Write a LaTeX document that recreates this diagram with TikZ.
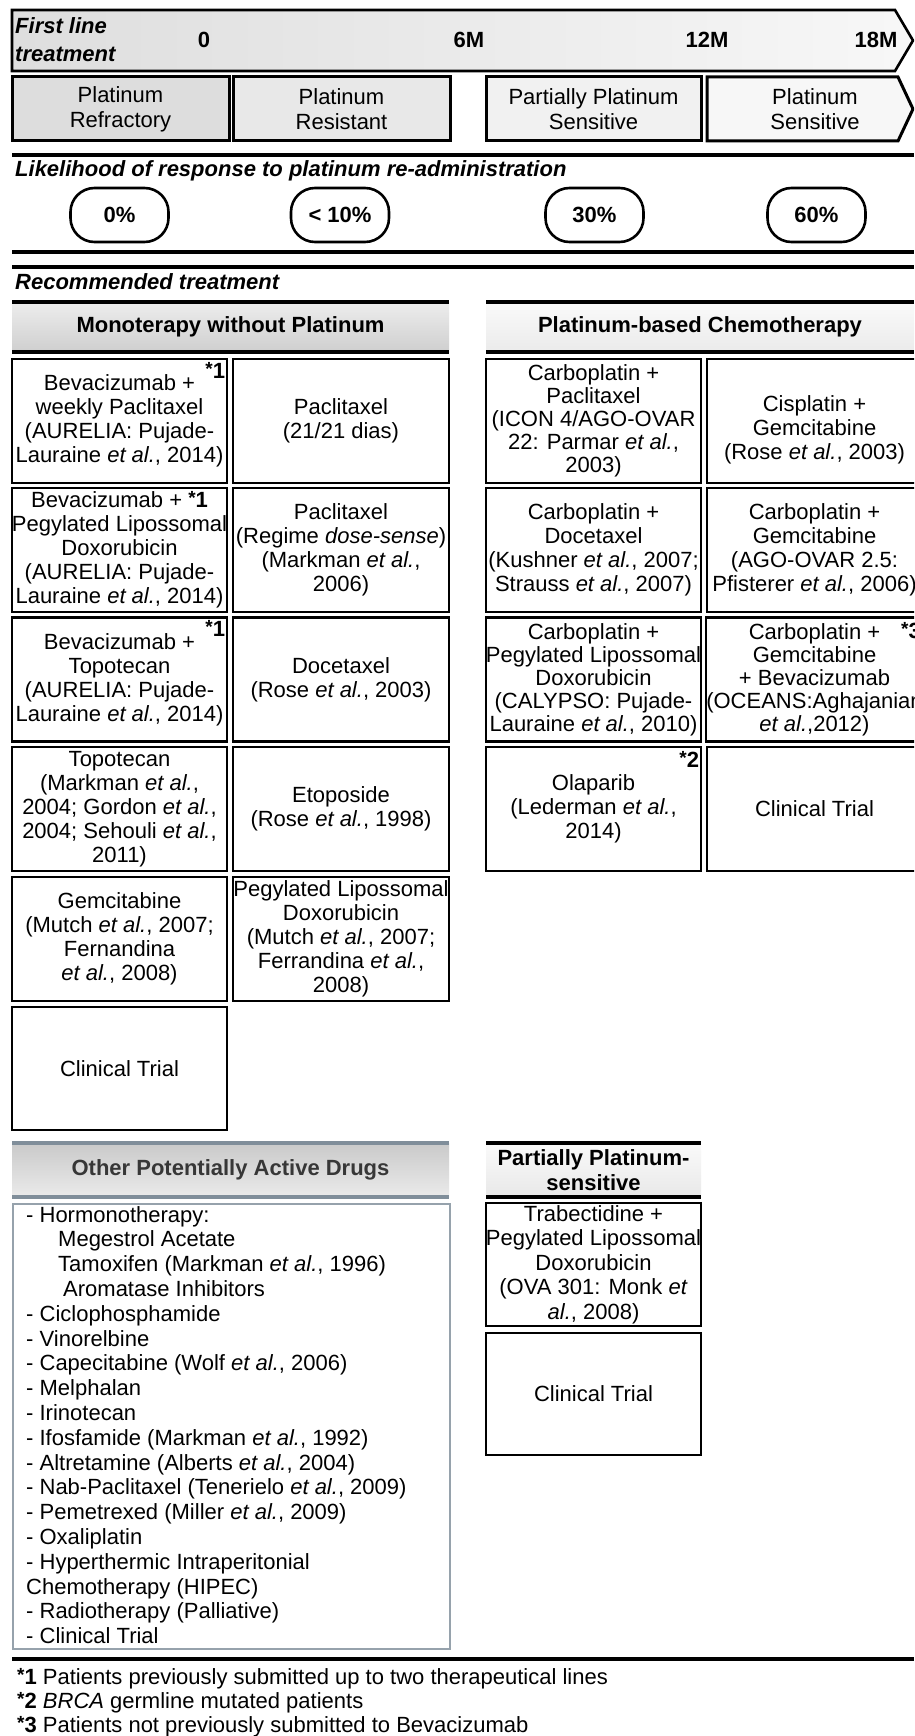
\documentclass[tikz,border=0pt]{standalone}
\usepackage{fontspec}
\setmainfont{Liberation Sans}
\definecolor{steel}{RGB}{128,142,154}
\definecolor{steellight}{RGB}{150,162,172}
\definecolor{darktxt}{RGB}{55,55,55}
\newcommand{\starnum}[1]{{\fontsize{19}{19}\selectfont\bfseries\raisebox{3pt}{*}}{\bfseries #1}}
\begin{document}
\begin{tikzpicture}[x=1pt,y=-1pt,
  every node/.style={inner sep=0pt},
  bold/.style={font=\bfseries\fontsize{22}{23.5}\selectfont},
  bolditalic/.style={font=\bfseries\itshape\fontsize{22}{22}\selectfont},
  cell/.style={draw, line width=2.4pt, minimum width=215pt, minimum height=124pt, align=center, font=\fontsize{22}{24}\selectfont},
  starmark/.style={anchor=north east, font=\fontsize{22}{22}\selectfont},
  rule/.style={line width=3.4pt},
  status/.style={draw, line width=3pt, minimum height=64pt, align=center, font=\fontsize{22}{25}\selectfont},
  pill/.style={draw, line width=2.6pt, rounded corners=24pt, minimum width=98pt, minimum height=54pt, fill=white, font=\bfseries\fontsize{22}{22}\selectfont},
  listline/.style={anchor=base west, font=\fontsize{22}{22}\selectfont},
  foot/.style={anchor=base west, font=\fontsize{22}{22}\selectfont},
]
\useasboundingbox (0,0) rectangle (914,1736);
\clip (0,0) rectangle (914,1736);
\fill[white] (0,0) rectangle (914,1736);

% timeline
\path[draw, line width=2.6pt, left color=gray!26, right color=gray!6]
  (12,10) -- (895,10) -- (913,40.5) -- (895,71) -- (12,71) -- cycle;
\node[anchor=base west, bolditalic] (fl1) at (15,34) {First line};
\node[anchor=base west, bolditalic] (fl2) at (15,62) {treatment};
\node[anchor=base, bold] (t0) at (204,48) {0};
\node[anchor=base, bold] (t6) at (469,48) {6M};
\node[anchor=base, bold] (t12) at (707,48) {12M};
\node[anchor=base, bold] (t18) at (876,48) {18M};

% status boxes
\node[status, fill=gray!27, minimum width=217pt] (s1) at (120.5,109) {Platinum\\Refractory};
\node[status, fill=gray!18, minimum width=217pt] (s2) at (341.5,109) {Platinum\\Resistant};
\node[status, fill=gray!11, minimum width=215pt] (s3) at (593.5,109) {Partially Platinum\\Sensitive};
\path[draw, line width=3pt, fill=gray!6] (707,77) -- (898,77) -- (913,109) -- (898,141) -- (707,141) -- cycle;
\node[align=center, font=\fontsize{22}{25}\selectfont] (s4) at (815,109) {Platinum\\Sensitive};

% likelihood
\draw[rule] (12,155) -- (914,155);
\node[anchor=base west, bolditalic] (lik) at (15,177) {Likelihood of response to platinum re-administration};
\node[pill] (p1) at (119.5,215) {0\%};
\node[pill] (p2) at (340,215) {< 10\%};
\node[pill] (p3) at (594.5,215) {30\%};
\node[pill] (p4) at (816.5,215) {60\%};
\draw[rule] (12,252) -- (914,252);
\draw[rule] (12,267) -- (914,267);
\node[anchor=base west, bolditalic] (rec) at (15,289) {Recommended treatment};

% headers
\path[top color=gray!14, bottom color=gray!38] (12,302) rectangle (449,352);
\draw[rule] (12,302) -- (449,302);
\draw[rule] (12,352) -- (449,352);
\node[bold] (hm) at (230.5,327) {Monoterapy without Platinum};
\path[top color=gray!4, bottom color=gray!16] (486,302) rectangle (914,352);
\draw[rule] (486,302) -- (914,302);
\draw[rule] (486,352) -- (914,352);
\node[bold] (hp) at (700,327) {Platinum-based Chemotherapy};

% column A
\node[cell] (A1) at (119.5,421) {Bevacizumab +\\weekly Paclitaxel\\(AURELIA: Pujade-\\Lauraine \textit{et al.}, 2014)};
\node[starmark] (mA1) at ([xshift=-3pt,yshift=-4pt]A1.north east) {\starnum{1}};
\node[cell] (A2) at (119.5,550) {Bevacizumab + \starnum{1}\\Pegylated Lipossomal\\Doxorubicin\\(AURELIA: Pujade-\\Lauraine \textit{et al.}, 2014)};
\node[cell] (A3) at (119.5,679.5) {Bevacizumab +\\Topotecan\\(AURELIA: Pujade-\\Lauraine \textit{et al.}, 2014)};
\node[starmark] (mA3) at ([xshift=-3pt,yshift=-4pt]A3.north east) {\starnum{1}};
\node[cell] (A4) at (119.5,809) {Topotecan\\(Markman \textit{et al.},\\2004; Gordon \textit{et al.},\\2004; Sehouli \textit{et al.},\\2011)};
\node[cell] (A5) at (119.5,939) {Gemcitabine\\(Mutch \textit{et al.}, 2007;\\Fernandina\\\textit{et al.}, 2008)};
\node[cell, minimum height=123pt] (A6) at (119.5,1068.5) {Clinical Trial};

% column B
\node[cell, minimum width=216pt] (B1) at (341,421) {Paclitaxel\\(21/21 dias)};
\node[cell, minimum width=216pt] (B2) at (341,550) {Paclitaxel\\(Regime \textit{dose-sense})\\(Markman \textit{et al.},\\2006)};
\node[cell, minimum width=216pt] (B3) at (341,679.5) {Docetaxel\\(Rose \textit{et al.}, 2003)};
\node[cell, minimum width=216pt] (B4) at (341,809) {Etoposide\\(Rose \textit{et al.}, 1998)};
\node[cell, minimum width=216pt] (B5) at (341,939) {Pegylated Lipossomal\\Doxorubicin\\(Mutch \textit{et al.}, 2007;\\Ferrandina \textit{et al.},\\2008)};

% column C
\node[cell, font=\fontsize{22}{23}\selectfont] (C1) at (593.5,421) {Carboplatin +\\Paclitaxel\\(ICON 4/AGO-OVAR\\22: Parmar \textit{et al.},\\2003)};
\node[cell] (C2) at (593.5,550) {Carboplatin +\\Docetaxel\\(Kushner \textit{et al.}, 2007;\\Strauss \textit{et al.}, 2007)};
\node[cell, font=\fontsize{22}{23}\selectfont] (C3) at (593.5,679.5) {Carboplatin +\\Pegylated Lipossomal\\Doxorubicin\\(CALYPSO: Pujade-\\Lauraine \textit{et al.}, 2010)};
\node[cell] (C4) at (593.5,809) {Olaparib\\(Lederman \textit{et al.},\\2014)};
\node[starmark] (mC4) at ([xshift=-3pt,yshift=-5pt]C4.north east) {\starnum{2}};

% column D (cut at the right edge, as in the original)
\node[cell] (D1) at (814.5,421) {\vphantom{C}\\[-6pt]Cisplatin +\\Gemcitabine\\(Rose \textit{et al.}, 2003)};
\node[cell] (D2) at (814.5,550) {Carboplatin +\\Gemcitabine\\(AGO-OVAR 2.5:\\Pfisterer \textit{et al.}, 2006)};
\node[cell, font=\fontsize{22}{23}\selectfont] (D3) at (814.5,679.5) {Carboplatin +\\Gemcitabine\\+ Bevacizumab\\(OCEANS:Aghajanian\\\textit{et al.},2012)};
\node[starmark] (mD3) at ([xshift=-3pt,yshift=-6pt]D3.north east) {\starnum{3}};
\node[cell] (D4) at (814.5,809) {Clinical Trial};

% other potentially active drugs
\path[top color=gray!42, bottom color=gray!16] (12,1143) rectangle (449,1197);
\draw[line width=3.4pt, steel] (12,1143) -- (449,1143);
\draw[line width=3.4pt, steel] (12,1197) -- (449,1197);
\node[bold, text=darktxt] (ho) at (230.5,1170) {Other Potentially Active Drugs};
\node[draw=steellight, line width=1.6pt, minimum width=437pt, minimum height=445pt, anchor=north west] (drugs) at (12,1203) {};
\node[listline] (d1) at (26,1222) {- Hormonotherapy:};
\node[listline] (d2) at (58,1246.8) {Megestrol Acetate};
\node[listline] (d3) at (58,1271.6) {Tamoxifen (Markman \textit{et al.}, 1996)};
\node[listline] (d4) at (63,1296.4) {Aromatase Inhibitors};
\node[listline] (d5) at (26,1321.2) {- Ciclophosphamide};
\node[listline] (d6) at (26,1346) {- Vinorelbine};
\node[listline] (d7) at (26,1370.8) {- Capecitabine (Wolf \textit{et al.}, 2006)};
\node[listline] (d8) at (26,1395.6) {- Melphalan};
\node[listline] (d9) at (26,1420.4) {- Irinotecan};
\node[listline] (d10) at (26,1445.2) {- Ifosfamide (Markman \textit{et al.}, 1992)};
\node[listline] (d11) at (26,1470) {- Altretamine (Alberts \textit{et al.}, 2004)};
\node[listline] (d12) at (26,1494.8) {- Nab-Paclitaxel (Tenerielo \textit{et al.}, 2009)};
\node[listline] (d13) at (26,1519.6) {- Pemetrexed (Miller \textit{et al.}, 2009)};
\node[listline] (d14) at (26,1544.4) {- Oxaliplatin};
\node[listline] (d15) at (26,1569.2) {- Hyperthermic Intraperitonial};
\node[listline] (d16) at (26,1594) {Chemotherapy (HIPEC)};
\node[listline] (d17) at (26,1618.8) {- Radiotherapy (Palliative)};
\node[listline] (d18) at (26,1643.6) {- Clinical Trial};

% partially platinum-sensitive
\path[top color=gray!4, bottom color=gray!18] (486,1143) rectangle (701,1197);
\draw[rule] (486,1143) -- (701,1143);
\draw[rule] (486,1197) -- (701,1197);
\node[align=center, font=\bfseries\fontsize{22}{25}\selectfont] (hpp) at (593.5,1170) {Partially Platinum-\\sensitive};
\node[cell, minimum height=123pt, font=\fontsize{22}{24.5}\selectfont] (tr) at (593.5,1264.5) {Trabectidine +\\Pegylated Lipossomal\\Doxorubicin\\(OVA 301: Monk \textit{et}\\\textit{al.}, 2008)};
\node[cell, minimum height=122pt] (ct3) at (593.5,1394) {Clinical Trial};

% footnotes
\draw[rule] (12,1659) -- (914,1659);
\node[foot] (f1) at (17,1684) {\starnum{1} Patients previously submitted up to two therapeutical lines};
\node[foot] (f2) at (17,1708) {\starnum{2} \textit{BRCA} germline mutated patients};
\node[foot] (f3) at (17,1732) {\starnum{3} Patients not previously submitted to Bevacizumab};
\end{tikzpicture}
\end{document}
